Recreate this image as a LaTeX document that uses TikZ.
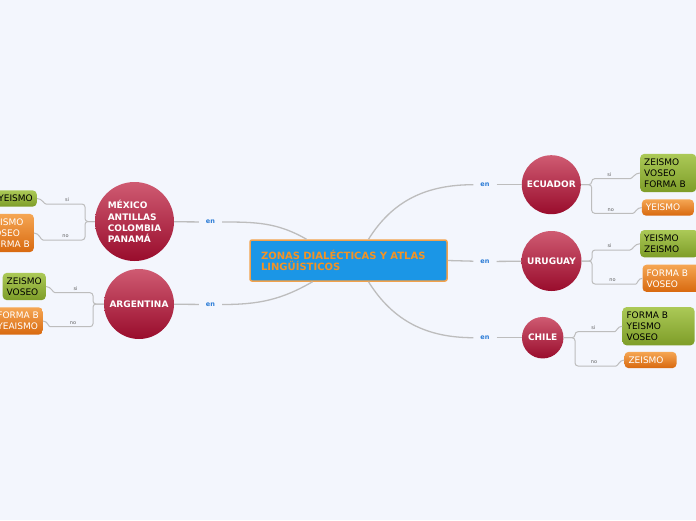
\documentclass[tikz,border=0pt]{standalone}
\usepackage{fontspec}
\setmainfont{DejaVu Sans}

\definecolor{fundo}{HTML}{F3F6FD}
\definecolor{linha}{HTML}{BDBDBD}
\definecolor{azulraiz}{HTML}{1B96E6}
\definecolor{bordaraiz}{HTML}{F2A24C}
\definecolor{textoraiz}{HTML}{F39325}
\definecolor{circtopo}{HTML}{CF5B72}
\definecolor{circbase}{HTML}{990C2C}
\definecolor{verdetopo}{HTML}{ABC957}
\definecolor{verdebase}{HTML}{7E9D28}
\definecolor{laranjatopo}{HTML}{F5A653}
\definecolor{laranjabase}{HTML}{D8690F}
\definecolor{azulen}{HTML}{2A7BD6}
\definecolor{cinza}{HTML}{606060}

\tikzset{
    tronco/.style={draw=linha, line width=1.3pt},
    ramo/.style={draw=linha, line width=1pt, rounded corners=3pt},
    raiz/.style={draw=bordaraiz, line width=1.5pt, fill=azulraiz, rounded corners=2pt,
        text=textoraiz, font=\bfseries\fontsize{10}{11.7}\selectfont, align=left,
        text width=175pt, inner xsep=11pt, minimum height=41pt},
    pais/.style={circle, top color=circtopo, bottom color=circbase, text=white,
        font=\bfseries\fontsize{9}{11.3}\selectfont, align=left, inner sep=0pt},
    verde/.style={rounded corners=4pt, top color=verdetopo, bottom color=verdebase,
        text=black, font=\fontsize{9}{11}\selectfont, align=left,
        inner xsep=4pt, inner ysep=4.7pt},
    laranja/.style={rounded corners=4pt, top color=laranjatopo, bottom color=laranjabase,
        text=white, font=\fontsize{9}{11}\selectfont, align=left,
        inner xsep=4pt, inner ysep=4.7pt},
    en/.style={text=azulen, font=\bfseries\fontsize{6.5}{8}\selectfont, inner xsep=7pt},
    rotulo/.style={text=cinza, font=\fontsize{5}{6}\selectfont, inner sep=1.5pt},
}

\begin{document}
\begin{tikzpicture}[x=1pt, y=-1pt]

        % fundo
        \fill[fundo] (0,0) rectangle (696,520);
        \clip (0,0) rectangle (696,520);

        % nó central
        \node[raiz] (raiz) at (348.5,260.5) {ZONAS DIALÉCTICAS Y ATLAS\\LINGÜÍSTICOS};

        % países
        \node[pais, minimum size=79pt] (mexico) at (134.5,221.5) {MÉXICO\\ANTILLAS\\COLOMBIA\\PANAMÁ};
        \node[pais, minimum size=70pt] (argentina) at (139,304) {ARGENTINA};
        \node[pais, minimum size=59pt] (ecuador) at (551.3,184.7) {ECUADOR};
        \node[pais, minimum size=60pt] (uruguay) at (551.5,261) {URUGUAY};
        \node[pais, minimum size=41.5pt] (chile) at (542.7,337.7) {CHILE};

        % rótulos "en"
        \node[en] (en1) at (210.5,222) {en};
        \node[en] (en2) at (210.5,304.5) {en};
        \node[en] (en3) at (485,184.7) {en};
        \node[en] (en4) at (485,261.5) {en};
        \node[en] (en5) at (485,337.7) {en};

        % folhas à esquerda
        \node[verde, anchor=east] (mexSi) at (37,198.5) {YEISMO};
        \node[laranja, anchor=east] (mexNo) at (34,233) {ZEISMO\\VOSEO\\FORMA B};
        \node[verde, anchor=east] (argSi) at (46,286.5) {ZEISMO\\VOSEO};
        \node[laranja, anchor=east] (argNo) at (43,321) {FORMA B\\YEAISMO};

        % folhas à direita
        \node[verde, anchor=west, text width=48pt] (ecuSi) at (640,173) {ZEISMO\\VOSEO\\FORMA B};
        \node[laranja, anchor=west, text width=44pt] (ecuNo) at (641.7,207.5) {YEISMO};
        \node[verde, anchor=west, text width=50pt] (uruSi) at (640,243.7) {YEISMO\\ZEISMO};
        \node[laranja, anchor=west, text width=50pt] (uruNo) at (642.3,278.3) {FORMA B\\VOSEO};
        \node[verde, anchor=west, text width=64pt] (chiSi) at (622.3,326.2) {FORMA B\\YEISMO\\VOSEO};
        \node[laranja, anchor=west, text width=44pt] (chiNo) at (624.3,360) {ZEISMO};

        % ligações do nó central
        \draw[tronco] ([xshift=-42pt]raiz.north) to[out=150, in=0] (en1);
        \draw[tronco] ([xshift=-36pt]raiz.south) to[out=-150, in=0] (en2);
        \draw[tronco] ([xshift=20pt]raiz.north) to[out=58, in=180] (en3);
        \draw[tronco] (raiz.east) -- (en4);
        \draw[tronco] ([xshift=20pt]raiz.south) to[out=-58, in=180] (en5);

        % "en" até os países
        \draw[tronco] (en1) -- (mexico); \draw[tronco] (en2) -- (argentina);
        \draw[tronco] (en3) -- (ecuador); \draw[tronco] (en4) -- (uruguay);
        \draw[tronco] (en5) -- (chile);

        % ramos si / no à esquerda
        \draw[ramo] (mexico.west) -| (85,204) -- node[rotulo, above] {si} (49,204) to[out=180, in=0] (mexSi.east);
        \draw[ramo] (mexico.west) -| (85,240) -- node[rotulo, above] {no} (46,240) to[out=180, in=0] (mexNo.east);
        \draw[ramo] (argentina.west) -| (93,292.7) -- node[rotulo, above] {si} (58,292.7) to[out=180, in=0] (argSi.east);
        \draw[ramo] (argentina.west) -| (93,326.7) -- node[rotulo, above] {no} (53,326.7) to[out=180, in=0] (argNo.east);

        % ramos si / no à direita
        \draw[ramo] (ecuador.east) -| (591.7,178.7) -- node[rotulo, above] {si} (627,178.7) to[out=0, in=180] (ecuSi.west);
        \draw[ramo] (ecuador.east) -| (591.7,213.3) -- node[rotulo, above] {no} (630,213.3) to[out=0, in=180] (ecuNo.west);
        \draw[ramo] (uruguay.east) -| (592,250) -- node[rotulo, above] {si} (627,250) to[out=0, in=180] (uruSi.west);
        \draw[ramo] (uruguay.east) -| (592,284) -- node[rotulo, above] {no} (633,284) to[out=0, in=180] (uruNo.west);
        \draw[ramo] (chile.east) -| (575,331.7) -- node[rotulo, above] {si} (611.7,331.7) to[out=0, in=180] (chiSi.west);
        \draw[ramo] (chile.east) -| (575,366) -- node[rotulo, above] {no} (613,366) to[out=0, in=180] (chiNo.west);

    \end{tikzpicture}
\end{document}
